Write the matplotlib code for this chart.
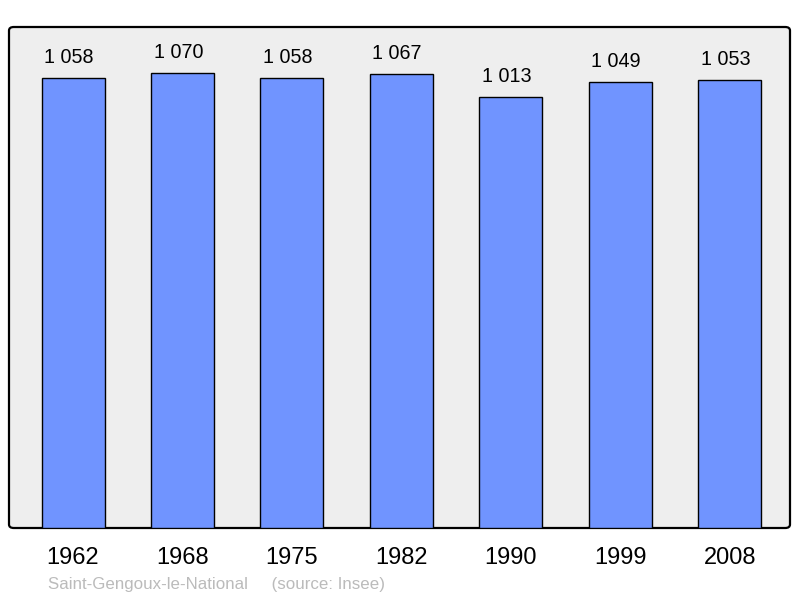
import matplotlib
matplotlib.use("Agg")
import matplotlib.pyplot as plt
from matplotlib.patches import FancyBboxPatch

years = ["1962", "1968", "1975", "1982", "1990", "1999", "2008"]
population = [1058, 1070, 1058, 1067, 1013, 1049, 1053]
value_labels = ["1 058", "1 070", "1 058", "1 067", "1 013", "1 049", "1 053"]

plt.rcParams['font.family'] = ['Liberation Sans', 'DejaVu Sans']

fig = plt.figure(figsize=(8, 5.98), dpi=100)
W, H = 800, 598
l, r, t, b = 9, 790, 27, 528
ax = fig.add_axes([l / W, (H - b) / H, (r - l) / W, (b - t) / H])
ax.set_facecolor('none')
ax.set_zorder(2)

bg = FancyBboxPatch((l / W, (H - b) / H), (r - l) / W, (b - t) / H,
                    boxstyle="round,pad=0,rounding_size=0.006",
                    transform=fig.transFigure, facecolor='#EEEEEE',
                    edgecolor='black', linewidth=1.6, zorder=0)
fig.patches.append(bg)

x = list(range(len(years)))
ax.bar(x, population, width=0.576, color='#7094FF', edgecolor='black',
       linewidth=1.0, zorder=2)
for xi, v, lab in zip(x, population, value_labels):
    ax.annotate(lab, (xi, v), xytext=(-3, 8), textcoords='offset points',
                ha='center', va='bottom', fontsize=14.2, color='black')

ax.set_xlim(-0.585, 6.55)
ax.set_ylim(0, 1178)
ax.set_xticks(x)
ax.set_xticklabels(years, fontsize=17)
ax.tick_params(axis='x', length=0, pad=14)
ax.set_yticks([])
for s in ax.spines.values():
    s.set_visible(False)

fig.text(48 / W, 1 - 584 / H, "Saint-Gengoux-le-National     (source: Insee)",
         fontsize=12.2, color='#BBBBBB', ha='left', va='center')

fig.savefig("out.png", dpi=100)
